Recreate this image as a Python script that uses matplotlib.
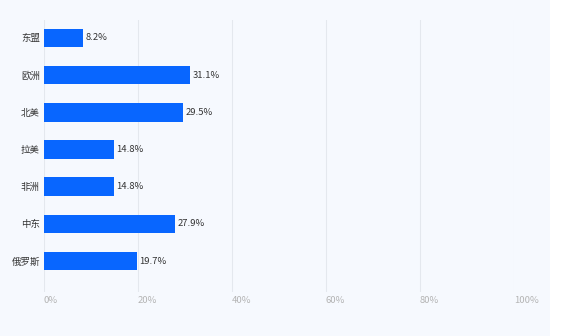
import matplotlib
matplotlib.use('Agg')
import matplotlib.pyplot as plt
from matplotlib.patches import Rectangle

plt.rcParams['font.family'] = ['Noto Sans CJK SC', 'DejaVu Sans']

regions = ['东盟', '欧洲', '北美', '拉美', '非洲', '中东', '俄罗斯']
shares = [8.2, 31.1, 29.5, 14.8, 14.8, 27.9, 19.7]
xticks = [0, 20, 40, 60, 80, 100]
xtick_labels = ['0%', '20%', '40%', '60%', '80%', '100%']

W, H = 585, 336
fig = plt.figure(figsize=(W / 100, H / 100), dpi=100)
fig.patch.set_facecolor('white')
# light panel behind the chart
fig.patches.append(Rectangle((0, 0), 550 / W, 1, transform=fig.transFigure,
                             facecolor='#f6f9fe', edgecolor='none', zorder=-10))

ax = fig.add_axes([44 / W, 1 - 292 / H, 470 / W, 272 / H])
ax.set_facecolor('none')

ypos = list(range(len(regions)))
ax.barh(ypos, shares, height=0.5, color='#0866ff', zorder=3)
for y, v in zip(ypos, shares):
    ax.text(v + 0.6, y, f'{v}%', va='center', ha='left', fontsize=6.8, color='#333333')

ax.set_xlim(0, 100)
ax.set_ylim(6.83, -0.48)
ax.set_yticks(ypos)
ax.set_yticklabels(regions, fontsize=6.8, color='#333333')
ax.set_xticks(xticks)
ax.set_xticklabels(xtick_labels, fontsize=6.8, color='#b4b4b4', ha='left')
ax.tick_params(axis='both', length=0)
ax.tick_params(axis='x', pad=3)
ax.tick_params(axis='y', pad=3)
ax.grid(axis='x', color='#e4e8ee', lw=0.8, zorder=0)
for s in ax.spines.values():
    s.set_visible(False)

fig.savefig('out.png', dpi=100)
